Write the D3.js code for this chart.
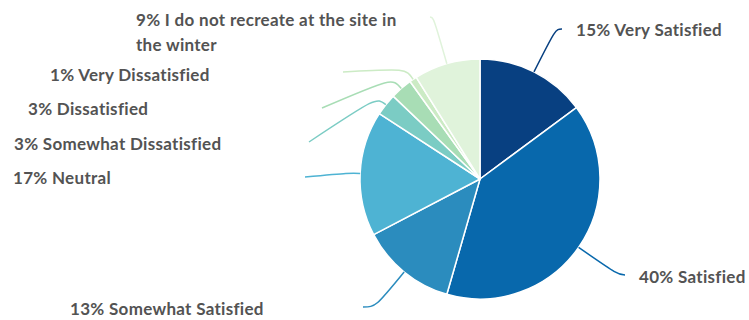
<!DOCTYPE html>
<html>
<head>
<meta charset="utf-8">
<script src="https://cdn.jsdelivr.net/npm/d3@7"></script>
<style>
  html, body { margin: 0; padding: 0; background: #fff; }
  svg { display: block; }
  text { font-family: "Lato", "Noto Sans", sans-serif; font-weight: 700; fill: #535353; letter-spacing: 0.3px; }
</style>
</head>
<body>
<svg id="chart" width="749" height="320"></svg>
<script>
// Winter satisfaction survey responses (percent)
const categories = [
  "Very Satisfied",
  "Satisfied",
  "Somewhat Satisfied",
  "Neutral",
  "Somewhat Dissatisfied",
  "Dissatisfied",
  "Very Dissatisfied",
  "I do not recreate at the site in the winter"
];
const values = [15, 40, 13, 17, 3, 3, 1, 9];
const colors = ["#084081", "#0868ac", "#2b8cbe", "#4eb3d3", "#7bccc4", "#a8ddb5", "#ccebc5", "#e0f3db"];

// Label placement: text anchor, leader end point, and bend radius of the leader
const labelLayout = [
  { tx: 576, ty: 36,  lines: null, ex: 562, ey: 29,  bend: 168 },
  { tx: 639, ty: 283, lines: null, ex: 625, ey: 275, bend: 168 },
  { tx: 70,  ty: 315, lines: null, ex: 363, ey: 307, bend: 165 },
  { tx: 13,  ty: 184, lines: null, ex: 305, ey: 177, bend: 130 },
  { tx: 14,  ty: 150, lines: null, ex: 309, ey: 142, bend: 132 },
  { tx: 28,  ty: 115, lines: null, ex: 322, ey: 108, bend: 134 },
  { tx: 50,  ty: 81,  lines: null, ex: 343, ey: 72,  bend: 133 },
  { tx: 136, ty: 26,  lines: ["9% I do not recreate at the site in", "the winter"], ex: 430, ey: 17, bend: 168 }
];

const width = 749, height = 320;
const cx = 480, cy = 179, radius = 120;

const svg = d3.select("#chart");
const g = svg.append("g").attr("transform", `translate(${cx},${cy})`);

const pie = d3.pie().sort(null).value(d => d.value);
const data = categories.map((c, i) => ({ name: c, value: values[i], color: colors[i], layout: labelLayout[i] }));
const arcs = pie(data);

const arc = d3.arc().innerRadius(0).outerRadius(radius);

g.selectAll("path.slice")
  .data(arcs)
  .join("path")
  .attr("class", "slice")
  .attr("d", arc)
  .attr("fill", d => d.data.color)
  .attr("stroke", "#fff")
  .attr("stroke-width", 1.5)
  .attr("stroke-linejoin", "round");

// point on the ray through a slice's middle angle
function rayPoint(d, r) {
  const a = (d.startAngle + d.endAngle) / 2;
  return [cx + Math.sin(a) * r, cy - Math.cos(a) * r];
}

// leader lines: leave the rim radially, bend, finish at the label end
svg.append("g").selectAll("path.leader")
  .data(arcs)
  .join("path")
  .attr("class", "leader")
  .attr("fill", "none")
  .attr("stroke", d => d.data.color)
  .attr("stroke-width", 1.5)
  .attr("d", d => {
    const L = d.data.layout;
    const s = rayPoint(d, radius);
    const c = rayPoint(d, L.bend);
    return `M${s[0]},${s[1]} C${c[0]},${c[1]} ${c[0]},${c[1]} ${L.ex},${L.ey}`;
  });

// labels
const labels = svg.append("g").selectAll("text.label")
  .data(arcs)
  .join("text")
  .attr("class", "label")
  .attr("x", d => d.data.layout.tx)
  .attr("y", d => d.data.layout.ty)
  .attr("font-size", 17);

labels.each(function(d) {
  const L = d.data.layout;
  const t = d3.select(this);
  const lines = L.lines || [`${d.data.value}% ${d.data.name}`];
  lines.forEach((ln, i) => {
    t.append("tspan").attr("x", L.tx).attr("dy", i === 0 ? 0 : 25).text(ln);
  });
});
</script>
</body>
</html>
